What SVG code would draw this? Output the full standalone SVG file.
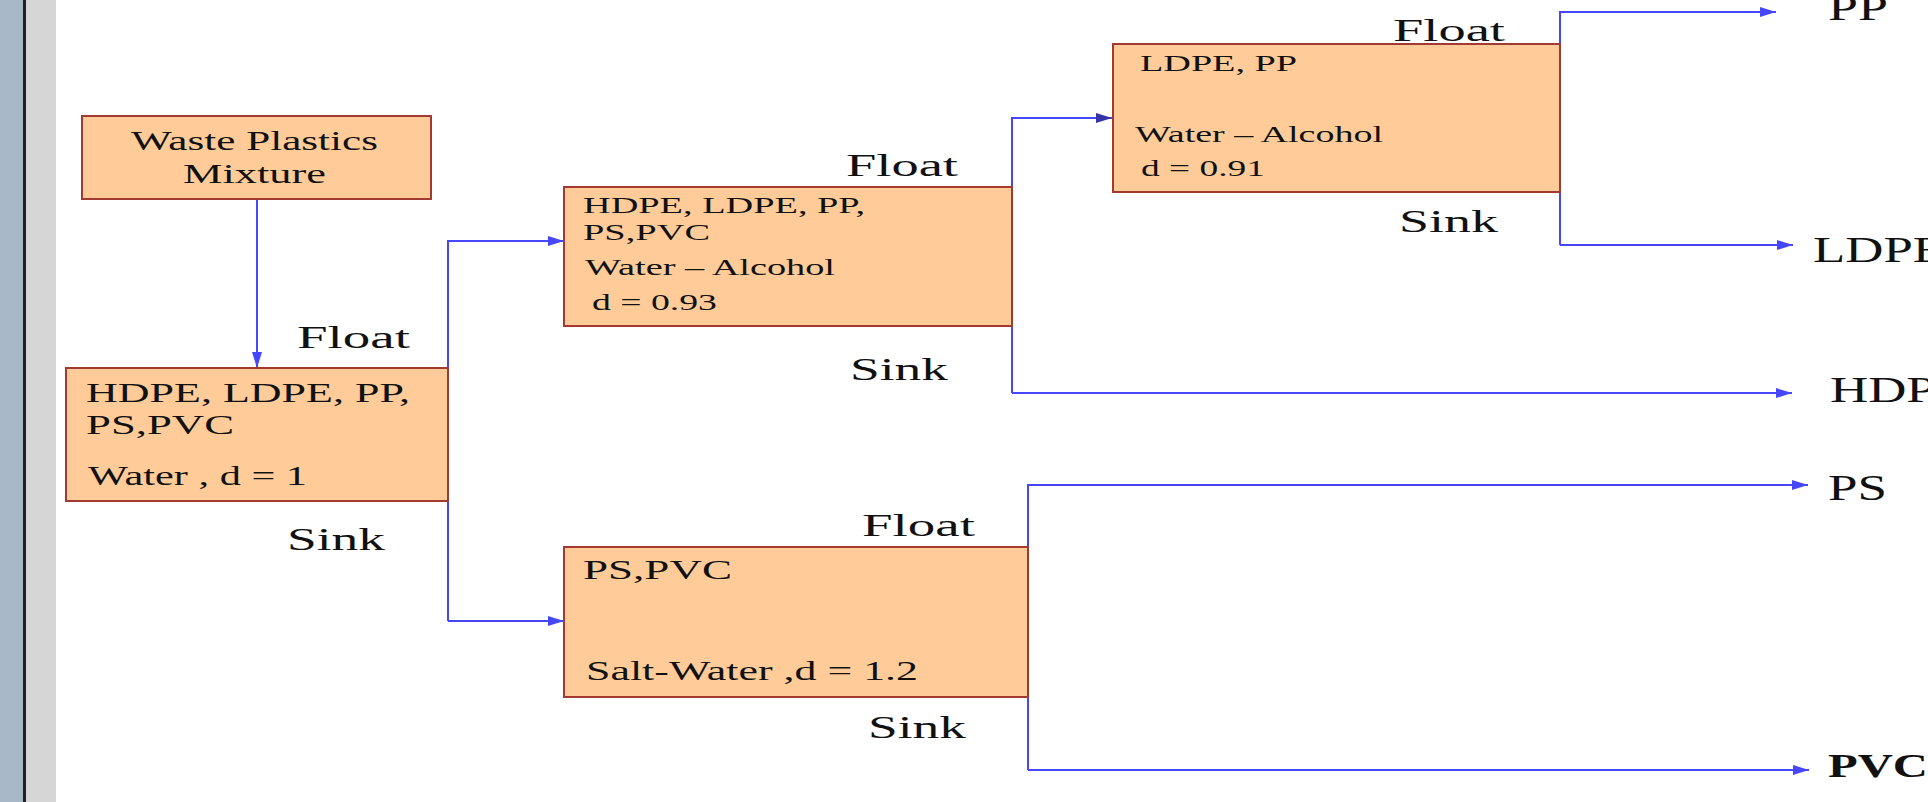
<svg xmlns="http://www.w3.org/2000/svg" width="1928" height="802" viewBox="0 0 1928 802">
<style>
.box{fill:#FFCC99;stroke:#A33A32;stroke-width:2}
.t{font-family:"Liberation Serif","Times New Roman",serif;fill:#111}
.c{fill:none;stroke:#4646FF;stroke-width:2}
.lbl{font-size:32px}
.out{font-size:36px}
</style>
<defs>
<marker id="ah" viewBox="0 0 16 10" refX="16" refY="5" markerWidth="16" markerHeight="10" markerUnits="userSpaceOnUse" orient="auto">
<path d="M0,0 L16,5 L0,10 z" fill="#4646FF"/>
</marker>
<marker id="ahd" viewBox="0 0 16 10" refX="16" refY="5" markerWidth="16" markerHeight="10" markerUnits="userSpaceOnUse" orient="auto">
<path d="M0,0 L16,5 L0,10 z" fill="#3434A8"/>
</marker>
</defs>
<rect x="0" y="0" width="1928" height="802" fill="#FFFFFF"/>
<rect x="0" y="0" width="24" height="802" fill="#A8B8C8"/>
<rect x="23" y="0" width="3" height="802" fill="#222222"/>
<rect x="26" y="0" width="30" height="802" fill="#D6D6D6"/>

<g id="connectors">
<path class="c" d="M257,199 V368" marker-end="url(#ah)"/>
<path class="c" d="M448,621 V241 H564" marker-end="url(#ah)"/>
<path class="c" d="M448,621 H564" marker-end="url(#ah)"/>
<path class="c" d="M1012,393 V118 H1112" marker-end="url(#ahd)"/>
<path class="c" d="M1012,393 H1792" marker-end="url(#ah)"/>
<path class="c" d="M1560,245 V12 H1776" marker-end="url(#ah)"/>
<path class="c" d="M1560,245 H1793" marker-end="url(#ah)"/>
<path class="c" d="M1028,770 V485 H1808" marker-end="url(#ah)"/>
<path class="c" d="M1028,770 H1809" marker-end="url(#ah)"/>
</g>

<g id="waste">
<rect class="box" x="82" y="116" width="349" height="83"/>
<text class="t" x="131" y="150" font-size="28" textLength="247" lengthAdjust="spacingAndGlyphs">Waste Plastics</text>
<text class="t" x="183" y="183" font-size="28" textLength="143" lengthAdjust="spacingAndGlyphs">Mixture</text>
</g>

<g id="water">
<rect class="box" x="66" y="368" width="382" height="133"/>
<text class="t" x="86" y="402" font-size="28" textLength="324" lengthAdjust="spacingAndGlyphs">HDPE, LDPE, PP,</text>
<text class="t" x="86" y="434" font-size="28" textLength="148" lengthAdjust="spacingAndGlyphs">PS,PVC</text>
<text class="t" x="88" y="485" font-size="28" textLength="219" lengthAdjust="spacingAndGlyphs">Water , d = 1</text>
<text class="t lbl" x="297" y="348" textLength="113" lengthAdjust="spacingAndGlyphs">Float</text>
<text class="t lbl" x="287" y="550" textLength="98" lengthAdjust="spacingAndGlyphs">Sink</text>
</g>

<g id="alcohol93">
<rect class="box" x="564" y="187" width="448" height="139"/>
<text class="t" x="583" y="213" font-size="24" textLength="282" lengthAdjust="spacingAndGlyphs">HDPE, LDPE, PP,</text>
<text class="t" x="583" y="240" font-size="24" textLength="127" lengthAdjust="spacingAndGlyphs">PS,PVC</text>
<text class="t" x="585" y="275" font-size="24" textLength="250" lengthAdjust="spacingAndGlyphs">Water – Alcohol</text>
<text class="t" x="592" y="310" font-size="24" textLength="125" lengthAdjust="spacingAndGlyphs">d = 0.93</text>
<text class="t lbl" x="846" y="176" textLength="112" lengthAdjust="spacingAndGlyphs">Float</text>
<text class="t lbl" x="850" y="380" textLength="98" lengthAdjust="spacingAndGlyphs">Sink</text>
</g>

<g id="alcohol91">
<rect class="box" x="1113" y="44" width="447" height="148"/>
<text class="t" x="1140" y="71" font-size="24" textLength="157" lengthAdjust="spacingAndGlyphs">LDPE, PP</text>
<text class="t" x="1135" y="142" font-size="24" textLength="248" lengthAdjust="spacingAndGlyphs">Water – Alcohol</text>
<text class="t" x="1141" y="176" font-size="24" textLength="124" lengthAdjust="spacingAndGlyphs">d = 0.91</text>
<text class="t lbl" x="1393" y="41" textLength="112" lengthAdjust="spacingAndGlyphs">Float</text>
<text class="t lbl" x="1399" y="232" textLength="99" lengthAdjust="spacingAndGlyphs">Sink</text>
</g>

<g id="saltwater">
<rect class="box" x="564" y="547" width="464" height="150"/>
<text class="t" x="583" y="579" font-size="27" textLength="149" lengthAdjust="spacingAndGlyphs">PS,PVC</text>
<text class="t" x="586" y="680" font-size="27" textLength="332" lengthAdjust="spacingAndGlyphs">Salt-Water ,d = 1.2</text>
<text class="t lbl" x="862" y="536" textLength="113" lengthAdjust="spacingAndGlyphs">Float</text>
<text class="t lbl" x="868" y="738" textLength="98" lengthAdjust="spacingAndGlyphs">Sink</text>
</g>

<g id="out-pp"><text class="t out" x="1828" y="20" textLength="60" lengthAdjust="spacingAndGlyphs">PP</text></g>
<g id="out-ldpe"><text class="t out" x="1813" y="262" textLength="132" lengthAdjust="spacingAndGlyphs">LDPE</text></g>
<g id="out-hdpe"><text class="t out" x="1830" y="402" textLength="138" lengthAdjust="spacingAndGlyphs">HDPE</text></g>
<g id="out-ps"><text class="t out" x="1828" y="500" textLength="59" lengthAdjust="spacingAndGlyphs">PS</text></g>
<g id="out-pvc"><text class="t" x="1828" y="777" font-size="33" font-weight="bold" textLength="100" lengthAdjust="spacingAndGlyphs">PVC</text></g>
</svg>
